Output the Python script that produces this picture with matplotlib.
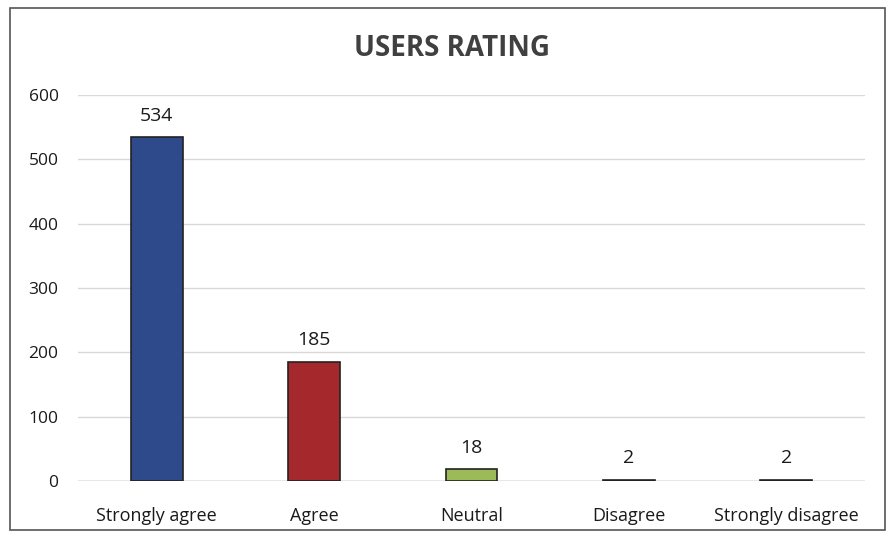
import matplotlib
matplotlib.use("Agg")
import matplotlib.pyplot as plt
from matplotlib.patches import Rectangle

categories = ["Strongly agree", "Agree", "Neutral", "Disagree", "Strongly disagree"]
values = [534, 185, 18, 2, 2]
colors = ["#2F4A8A", "#A4282C", "#9BBB59", "#5A5A6E", "#4A5A68"]
yticks = [0, 100, 200, 300, 400, 500, 600]

plt.rcParams['font.family'] = ['Open Sans', 'DejaVu Sans']

W, H = 886, 540
fig = plt.figure(figsize=(W/100, H/100), dpi=100)
ax = fig.add_axes([78/W, 1 - 481/H, (865-78)/W, (481-95)/H])

x = list(range(len(categories)))
ax.bar(x, values, width=0.33, color=colors, edgecolor="#222222", linewidth=1.2, zorder=3)
for xi, v in zip(x, values):
    ax.annotate(str(v), (xi, v), xytext=(0, 9), textcoords="offset points",
                ha="center", va="bottom", fontsize=14, color="#1A1A1A")

ax.set_xlim(-0.5, len(categories) - 0.5)
ax.set_ylim(0, 600)
ax.set_yticks(yticks)
ax.set_yticklabels([str(t) for t in yticks], fontsize=12.5, color="#1A1A1A")
ax.set_xticks(x)
ax.set_xticklabels(categories, fontsize=13, color="#1A1A1A")
ax.tick_params(axis="y", length=0, pad=14)
ax.tick_params(axis="x", length=0, pad=19)
ax.grid(axis="y", color="#D9D9D9", linewidth=1.0, zorder=0)
for s in ax.spines.values():
    s.set_visible(False)
ax.axhline(0, color="#AAAAAA", linewidth=1.0, zorder=2)

fig.text(452/W, 1 - 48/H, "USERS RATING", ha="center", va="center",
         fontsize=20, fontweight="bold", color="#404040")

fig.patches.append(Rectangle((10/W, 1 - 530/H), (W - 11)/W, (530 - 8)/H,
                             transform=fig.transFigure, fill=False,
                             edgecolor="#555555", linewidth=1.2))

fig.savefig("out.png", dpi=100)
